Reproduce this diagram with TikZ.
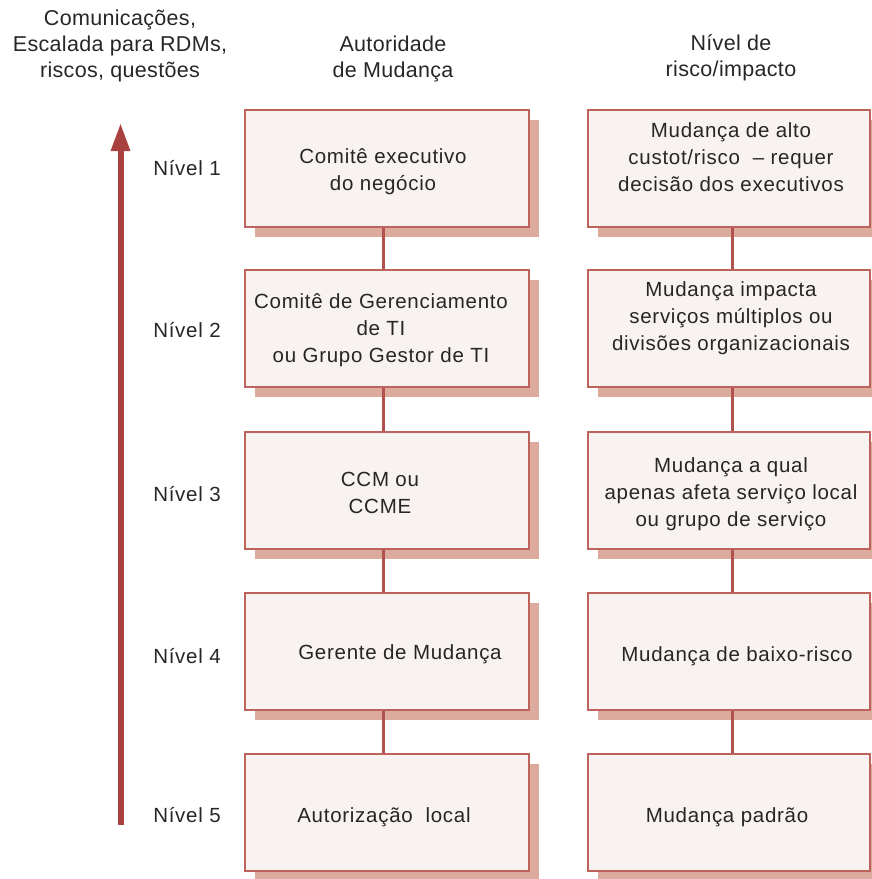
\documentclass[tikz,border=0pt]{standalone}
\usepackage{fontspec}
\setmainfont{Liberation Sans}
\newfontfamily\bodyfont{Liberation Sans}[LetterSpace=3.5]
\newfontfamily\headfont{Liberation Sans}[LetterSpace=1.5]
\usetikzlibrary{shadows,arrows.meta}
\definecolor{boxfill}{HTML}{F8F3F1}
\definecolor{boxline}{HTML}{BE625C}
\definecolor{boxshade}{HTML}{DDAA9E}
\definecolor{arrowred}{HTML}{A8413F}
\definecolor{linkred}{HTML}{B0524E}
\definecolor{txt}{HTML}{262626}
\begin{document}
\begin{tikzpicture}[x=1pt,y=-1pt,
  levelbox/.style={draw=boxline, line width=1.8pt, fill=boxfill,
    minimum height=117pt, inner sep=0pt,
    drop shadow={shadow xshift=10pt, shadow yshift=-10pt, fill=boxshade, opacity=1}},
  leftbox/.style={levelbox, minimum width=284pt},
  rightbox/.style={levelbox, minimum width=282pt},
  boxtext/.style={align=center, text=txt, font=\bodyfont\fontsize{20.5}{27}\selectfont, inner sep=0pt},
  headtext/.style={align=center, text=txt, font=\headfont\fontsize{21.5}{26}\selectfont, inner sep=0pt},
  lvltext/.style={text=txt, font=\bodyfont\fontsize{20.5}{27}\selectfont, inner sep=0pt},
  link/.style={draw=linkred, line width=3pt}]
\useasboundingbox (0,0) rectangle (871,879);

% column headings
\node[headtext] (h1) at (120,46) {Comunicações,\\Escalada para RDMs,\\riscos, questões};
\node[headtext] (h2) at (393,59) {Autoridade\\de Mudança};
\node[headtext] (h3) at (731,58) {Nível de\\risco/impacto};

% escalation arrow
\coordinate (abot) at (120.5,825);
\coordinate (atop) at (120.5,123);
\draw[draw=arrowred, line width=6pt, -{Triangle[length=28pt,width=18pt]}] (abot) -- (atop);

% boxes, one pair per level
\foreach \i/\y in {1/168.5,2/328.5,3/490.5,4/651.5,5/812.5}{
  \node[leftbox] (L\i) at (387,\y) {};
  \node[rightbox] (R\i) at (729,\y) {};
}

% links between levels
\foreach \i/\j in {1/2,2/3,3/4,4/5}{
  \draw[link] ([xshift=-4pt]L\i.south) -- ([xshift=-4pt]L\j.north);
  \draw[link] ([xshift=3pt]R\i.south) -- ([xshift=3pt]R\j.north);
}

% level labels
\node[lvltext] (n1) at (187,168) {Nível 1};
\node[lvltext] (n2) at (187,330) {Nível 2};
\node[lvltext] (n3) at (187,494) {Nível 3};
\node[lvltext] (n4) at (187,656) {Nível 4};
\node[lvltext] (n5) at (187,815) {Nível 5};

% change authority
\node[boxtext] (a1) at (383,172) {Comitê executivo\\do negócio};
\node[boxtext] (a2) at (381,330) {Comitê de Gerenciamento\\de TI\\ou Grupo Gestor de TI};
\node[boxtext] (a3) at (380,493) {CCM ou\\CCME};
\node[boxtext] (a4) at (400,654) {Gerente de Mudança};
\node[boxtext] (a5) at (384,817) {Autorização\ \ local};

% risk / impact
\node[boxtext] (r1) at (731,157) {Mudança de alto\\custot/risco \ – requer\\decisão dos executivos};
\node[boxtext] (r2) at (731,318) {Mudança impacta\\serviços múltiplos ou\\divisões organizacionais};
\node[boxtext] (r3) at (731,494) {Mudança a qual\\apenas afeta serviço local\\ou grupo de serviço};
\node[boxtext] (r4) at (737,656) {Mudança de baixo-risco};
\node[boxtext] (r5) at (727,817) {Mudança padrão};
\end{tikzpicture}
\end{document}
